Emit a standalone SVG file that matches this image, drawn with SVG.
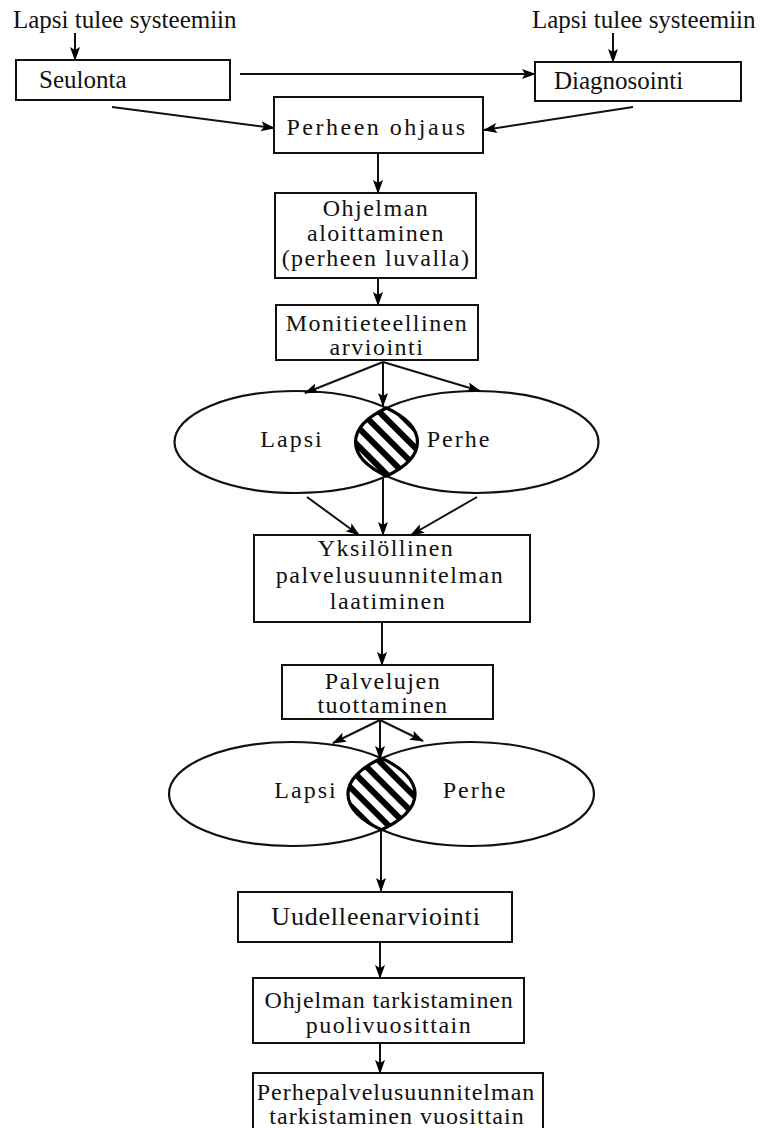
<svg xmlns="http://www.w3.org/2000/svg" width="770" height="1128" viewBox="0 0 770 1128">
<style>
.box{fill:#fff;stroke:#111;stroke-width:2}
.ell{fill:none;stroke:#111;stroke-width:2.2}
.lens{fill:url(#hatch);stroke:#000;stroke-width:3.2}
.t{font-family:"Liberation Serif","Times New Roman",serif;font-size:25px;fill:#111}
.s{font-family:"Liberation Serif","Times New Roman",serif;font-size:24px;letter-spacing:1.5px;fill:#111;text-anchor:middle}
.c{stroke:#111;stroke-width:2;fill:none;marker-end:url(#ah)}
</style>
<defs>
<marker id="ah" markerUnits="userSpaceOnUse" markerWidth="16" markerHeight="12" refX="13" refY="5" orient="auto">
<path d="M0,0 L14,5 L0,10 L3,5 z" fill="#000"/>
</marker>
<pattern id="hatch" patternUnits="userSpaceOnUse" width="13" height="13" patternTransform="rotate(-45)">
<rect x="0" y="0" width="13" height="13" fill="#fff"/>
<rect x="0" y="0" width="6" height="13" fill="#000"/>
</pattern>
</defs>

<g id="label-left"><text class="t" x="13" y="28">Lapsi tulee systeemiin</text></g>
<g id="label-right"><text class="t" x="532" y="28">Lapsi tulee systeemiin</text></g>

<g id="seulonta"><rect class="box" x="16" y="60" width="214" height="40"/><text class="t" x="39" y="88">Seulonta</text></g>
<g id="diagnosointi"><rect class="box" x="535" y="62" width="206" height="39"/><text class="t" x="554" y="89">Diagnosointi</text></g>
<g id="perheen-ohjaus"><rect class="box" x="274" y="97" width="209" height="56"/><text class="s" x="377" y="135" style="letter-spacing:2.5px">Perheen ohjaus</text></g>
<g id="ohjelman-aloittaminen"><rect class="box" x="275" y="193" width="201" height="85"/>
<text class="s" x="376" y="216">Ohjelman</text><text class="s" x="376" y="241">aloittaminen</text><text class="s" x="376" y="266">(perheen luvalla)</text></g>
<g id="monitieteellinen"><rect class="box" x="276" y="305" width="202" height="55"/>
<text class="s" x="377" y="331">Monitieteellinen</text><text class="s" x="377" y="355">arviointi</text></g>

<g id="ellipses-1">
<ellipse class="ell" cx="296" cy="442" rx="121.5" ry="51"/>
<ellipse class="ell" cx="477" cy="442" rx="121.5" ry="51"/>
<path class="lens" d="M386.5,408 A121.5,51 0 0,1 386.5,476 A121.5,51 0 0,1 386.5,408 z"/>
<text class="s" x="292" y="447" style="letter-spacing:2px">Lapsi</text>
<text class="s" x="459" y="447" style="letter-spacing:2px">Perhe</text>
</g>

<g id="yksilollinen"><rect class="box" x="254" y="535" width="276" height="87"/>
<text class="s" x="386" y="556">Yksilöllinen</text><text class="s" x="390" y="583">palvelusuunnitelman</text><text class="s" x="388" y="609">laatiminen</text></g>
<g id="palvelujen"><rect class="box" x="282" y="665" width="211" height="54"/>
<text class="s" x="383" y="689">Palvelujen</text><text class="s" x="383" y="713">tuottaminen</text></g>

<g id="ellipses-2">
<ellipse class="ell" cx="292" cy="794" rx="123" ry="52"/>
<ellipse class="ell" cx="471" cy="794" rx="123" ry="52"/>
<path class="lens" d="M381.5,758.3 A123,52 0 0,1 381.5,829.7 A123,52 0 0,1 381.5,758.3 z"/>
<text class="s" x="306" y="798" style="letter-spacing:2px">Lapsi</text>
<text class="s" x="475" y="798" style="letter-spacing:2px">Perhe</text>
</g>

<g id="uudelleenarviointi"><rect class="box" x="238" y="892" width="274" height="50"/><text class="t" x="376" y="925" text-anchor="middle" style="font-size:26px;letter-spacing:0.8px">Uudelleenarviointi</text></g>
<g id="ohjelman-tarkistaminen"><rect class="box" x="253" y="978" width="271" height="65"/>
<text class="s" x="389" y="1008" style="letter-spacing:0.8px">Ohjelman tarkistaminen</text><text class="s" x="389" y="1033">puolivuosittain</text></g>
<g id="perhepalvelusuunnitelma"><rect class="box" x="253" y="1073" width="290" height="60"/>
<text class="s" x="396" y="1100" style="letter-spacing:1px">Perhepalvelusuunnitelman</text><text class="s" x="397" y="1124" style="letter-spacing:1px">tarkistaminen vuosittain</text></g>

<g id="connectors">
<line class="c" x1="75" y1="33" x2="75" y2="60"/>
<line class="c" x1="613" y1="33" x2="613" y2="62"/>
<line class="c" x1="240" y1="74" x2="535" y2="74"/>
<line class="c" x1="112" y1="107" x2="274" y2="128"/>
<line class="c" x1="633" y1="107" x2="484" y2="130"/>
<line class="c" x1="378" y1="153" x2="378" y2="193"/>
<line class="c" x1="378" y1="278" x2="378" y2="305"/>
<line class="c" x1="383" y1="362" x2="305" y2="393"/>
<line class="c" x1="383" y1="362" x2="383" y2="406"/>
<line class="c" x1="383" y1="362" x2="480" y2="391"/>
<line class="c" x1="307" y1="497" x2="359" y2="535"/>
<line class="c" x1="383" y1="478" x2="383" y2="535"/>
<line class="c" x1="477" y1="497" x2="411" y2="535"/>
<line class="c" x1="382" y1="622" x2="382" y2="665"/>
<line class="c" x1="380" y1="720" x2="333" y2="743"/>
<line class="c" x1="380" y1="720" x2="380" y2="759"/>
<line class="c" x1="380" y1="720" x2="423" y2="741"/>
<line class="c" x1="381" y1="831" x2="381" y2="891"/>
<line class="c" x1="380" y1="942" x2="380" y2="978"/>
<line class="c" x1="380" y1="1043" x2="380" y2="1073"/>
</g>
</svg>
